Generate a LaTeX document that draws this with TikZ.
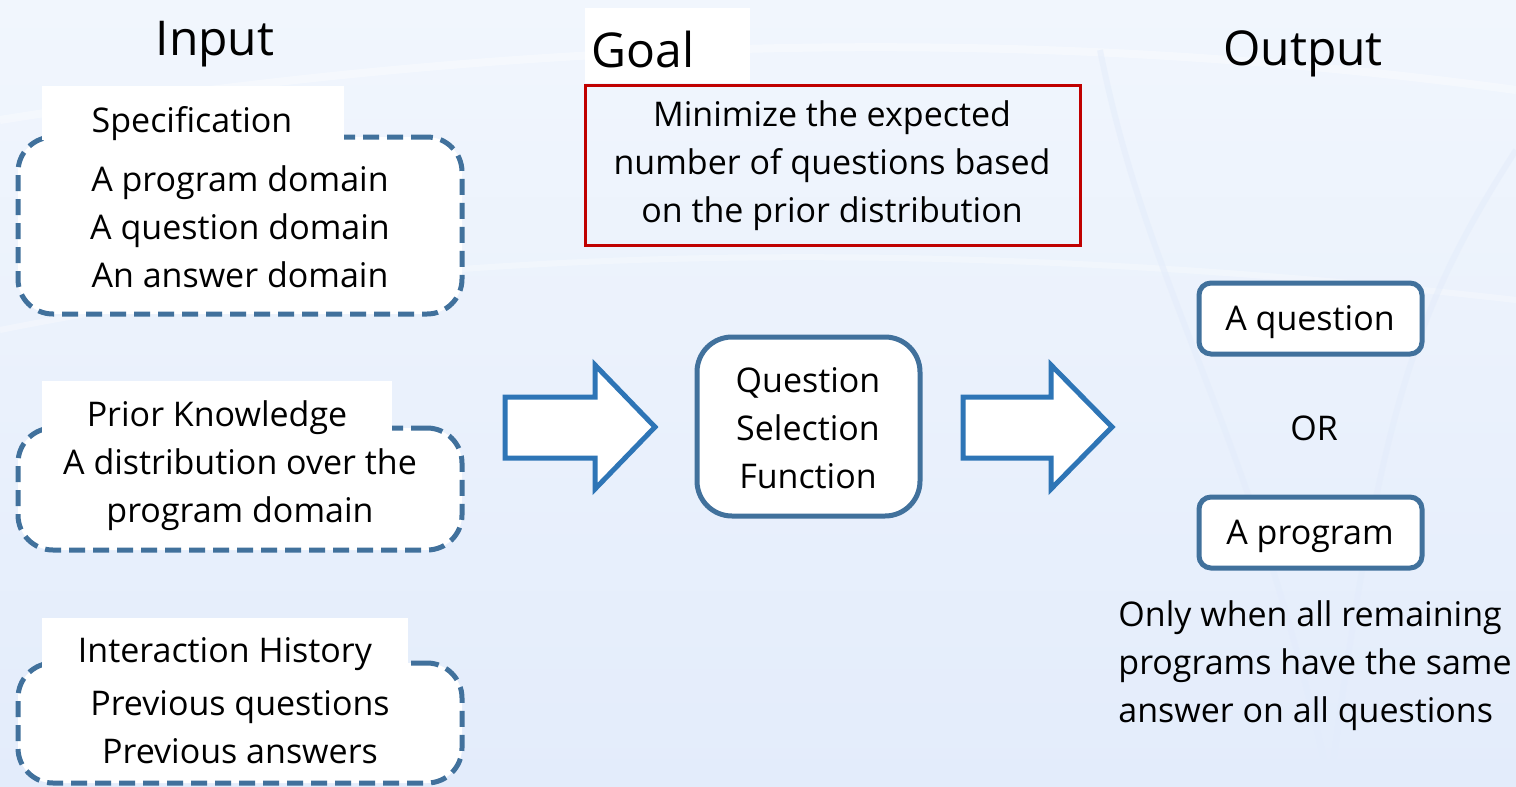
\documentclass[tikz,border=0pt]{standalone}
\usepackage{fontspec}
\setmainfont{Open Sans}

\begin{document}
\begin{tikzpicture}[x=0.5pt,y=-0.5pt,
  txt/.style={inner sep=0pt, align=center, font=\fontsize{17pt}{24pt}\selectfont},
  head/.style={inner sep=0pt, anchor=base, font=\fontsize{24pt}{28pt}\selectfont},
  tab/.style={fill=white, inner sep=0pt},
  dashbox/.style={draw=boxblue, fill=white, line width=2.5pt, dash pattern=on 8pt off 4pt,
    rounded corners=17.5pt, minimum width=222pt, inner sep=0pt},
  solidbox/.style={draw=boxblue, fill=white, line width=2.5pt, inner sep=0pt},
  blockarrow/.style={draw=arrowblue, fill=white, line width=2.5pt, line join=miter}]

  \definecolor{boxblue}{RGB}{65,113,156}
  \definecolor{arrowblue}{RGB}{46,117,182}
  \definecolor{goalred}{RGB}{192,0,0}
  \definecolor{bgtop}{RGB}{241,246,253}
  \definecolor{bgbot}{RGB}{227,236,251}

  % background
  \useasboundingbox (0,0) rectangle (1516,787);
  \shade[top color=bgtop, bottom color=bgbot] (0,0) rectangle (1516,787);
  \draw[white, opacity=0.35, line width=4pt] (0,120) .. controls (500,40) and (1000,20) .. (1516,90);
  \draw[white, opacity=0.3, line width=3pt] (0,330) .. controls (400,250) and (900,230) .. (1516,300);
  \draw[bgbot, opacity=0.5, line width=3pt] (1100,50) .. controls (1150,300) and (1250,420) .. (1330,787);
  \draw[bgbot, opacity=0.5, line width=3pt] (1516,150) .. controls (1420,300) and (1380,400) .. (1330,787);

  % column titles
  \node[head] (input) at (215,55) {Input};
  \node[tab, minimum width=82.5pt, minimum height=37.5pt] (goaltab) at (667.5,45.5) {};
  \node[head] (goal) at (643,68) {Goal};
  \node[head] (output) at (1303,65) {Output};

  % input boxes
  \node[dashbox, minimum height=88.5pt] (spec) at (240,225.5) {};
  \node[tab, minimum width=151pt, minimum height=27pt] (spectab) at (193,113) {};
  \node[txt, anchor=base] (spectitle) at (192,132) {Specification};
  \node[txt] (spectext) at (240,227) {A program domain\\A question domain\\An answer domain};

  \node[dashbox, minimum height=61pt] (prior) at (240,489) {};
  \node[tab, minimum width=175pt, minimum height=26pt] (priortab) at (217,407) {};
  \node[txt, anchor=base] (priortitle) at (217,426) {Prior Knowledge};
  \node[txt] (priortext) at (240,490) {A distribution over the\\program domain};

  \node[dashbox, minimum height=60pt] (hist) at (240,723) {};
  \node[tab, minimum width=183pt, minimum height=25pt] (histtab) at (225,643) {};
  \node[txt, anchor=base] (histtitle) at (225,662) {Interaction History};
  \node[txt] (histtext) at (240,727) {Previous questions\\Previous answers};

  % goal
  \node[draw=goalred, line width=1.5pt, minimum width=247.5pt, minimum height=80pt] (goalbox) at (832.5,165) {};
  \node[txt] (goaltext) at (832,166) {Minimize the expected\\number of questions based\\on the prior distribution};

  % selection function
  \node[solidbox, rounded corners=17.5pt, minimum width=111.5pt, minimum height=89.5pt] (qsf) at (808.5,426.5) {};
  \node[txt] (qsftext) at (808,428) {Question\\Selection\\Function};

  \draw[blockarrow] (505,397) -- (595,397) -- (595,365) -- (655,427) -- (595,489) -- (595,458) -- (505,458) -- cycle;
  \draw[blockarrow] (963,397) -- (1051,397) -- (1051,365) -- (1112,427) -- (1051,489) -- (1051,458) -- (963,458) -- cycle;

  % output
  \node[solidbox, rounded corners=6pt, minimum width=111.5pt, minimum height=35.5pt] (quest) at (1310.5,318.5) {};
  \node[txt] (questtext) at (1310,322) {A question};
  \node[txt] (or) at (1314,428) {OR};
  \node[solidbox, rounded corners=6pt, minimum width=111.5pt, minimum height=35.5pt] (prog) at (1310.5,532.5) {};
  \node[txt] (progtext) at (1310,536) {A program};
  \node[txt, align=left, anchor=west] (note) at (1118,666) {Only when all remaining\\programs have the same\\answer on all questions};

\end{tikzpicture}
\end{document}
